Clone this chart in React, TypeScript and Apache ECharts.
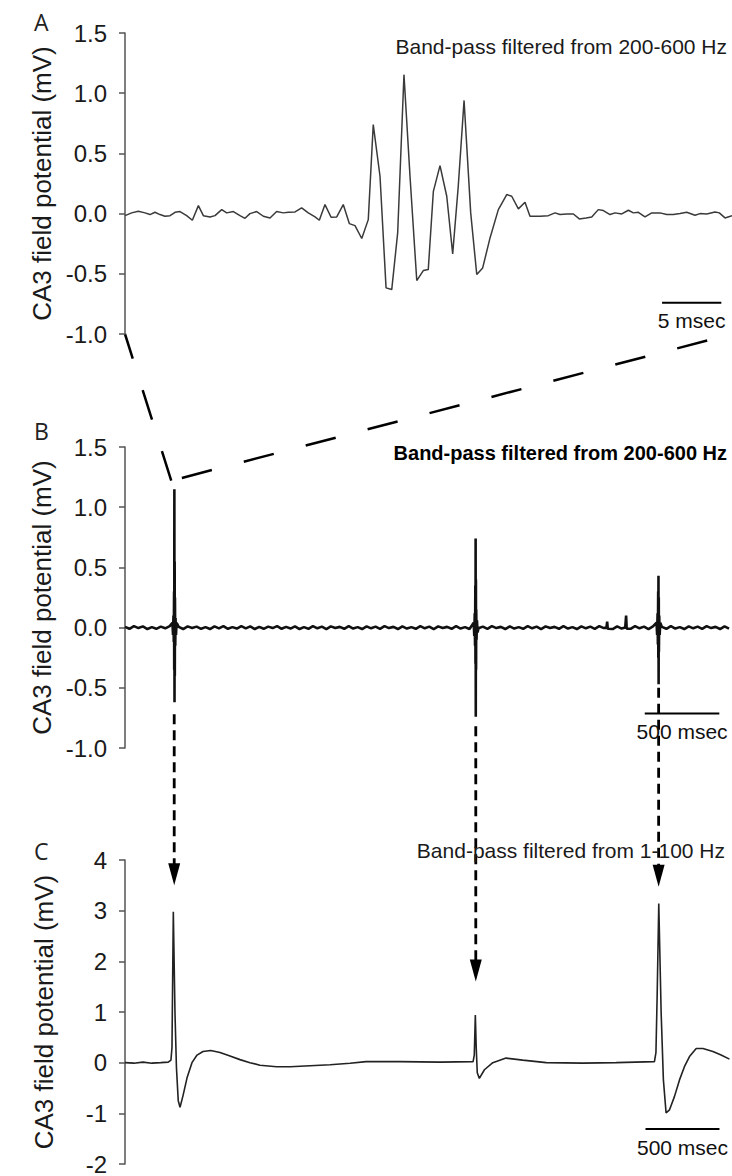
import React, { useEffect, useRef } from "react";
import * as echarts from "echarts";

// ---------- Panel A (zoomed burst, time in msec) ----------
const traceA: [number, number][] = [
  [0, -0.017], [0.56, 0.006], [1.12, 0.019], [1.69, 0.006], [2.11, -0.008], [2.53, 0.011],
  [2.95, -0.008], [3.37, -0.022], [3.8, -0.017], [4.22, 0.011], [4.64, 0.017], [5.2, -0.017],
  [5.68, -0.055], [6.19, 0.066], [6.61, -0.017], [7.17, -0.028], [7.59, -0.017], [8.16, 0.033],
  [8.58, 0.006], [9.14, 0.017], [9.7, -0.017], [10.12, -0.039], [10.54, 0], [11.11, 0.017],
  [11.67, -0.022], [12.23, -0.036], [12.79, 0.017], [13.35, 0.006], [13.78, 0.011], [14.34, 0.014],
  [14.9, 0.047], [15.46, 0.006], [16.03, -0.028], [16.39, -0.055], [16.87, 0.075], [17.38, -0.03],
  [17.86, -0.028], [18.41, 0.075], [18.92, -0.083], [19.4, -0.1], [19.97, -0.207], [20.52, -0.05],
  [20.94, 0.739], [21.51, 0.31], [22.02, -0.617], [22.5, -0.631], [23.0, -0.16], [23.53, 1.154],
  [24.04, 0.31], [24.61, -0.556], [25.16, -0.473], [25.58, -0.465], [26.01, 0.185], [26.57, 0.398],
  [27.14, 0.144], [27.64, -0.334], [28.11, 0.227], [28.6, 0.94], [29.16, 0.006], [29.67, -0.506],
  [30.17, -0.451], [30.79, -0.202], [31.49, 0.033], [32.2, 0.158], [32.62, 0.144], [33.18, 0.039],
  [33.74, 0.094], [34.16, -0.022], [35.01, -0.022], [35.71, -0.017], [36.27, 0.006], [36.69, -0.008],
  [37.26, -0.003], [37.82, -0.003], [38.32, -0.044], [38.89, -0.036], [39.37, -0.028], [39.92, 0.033],
  [40.35, 0.025], [40.91, -0.008], [41.33, 0.006], [41.9, -0.003], [42.46, 0.028], [42.88, 0.006],
  [43.3, 0.011], [43.86, -0.028], [44.43, 0.006], [45.13, 0.006], [45.69, -0.008], [46.25, -0.008],
  [46.82, 0], [47.38, 0.011], [48.08, -0.014], [48.5, 0], [49.07, -0.003], [49.77, 0.014],
  [50.13, 0.006], [50.61, -0.036], [51.2, -0.017],
];

// ---------- Panel B (200-600 Hz, time in msec) ----------
const bBaselineStepMs = 30;
const bBaseline = [
  0.006, -0.01, 0.012, -0.004, 0.01, -0.012, 0.004, -0.01, 0.008, -0.006,
  0.012, -0.008, 0.006, -0.012, 0.01, -0.004, 0.008, -0.01, 0.004, -0.012,
  0.01, -0.006, 0.012, -0.01, 0.004, -0.008, 0.012, -0.006, 0.01, -0.012,
  0.006, -0.01, 0.008, -0.004, 0.012, -0.01, 0.006, -0.008, 0.01, -0.012,
  0.004, -0.01, 0.012, -0.006, 0.008, -0.012, 0.01, -0.004, 0.006, -0.01,
  0.012, -0.008, 0.004, -0.012, 0.01, -0.006, 0.008, -0.01, 0.012, -0.004,
  0.006, -0.012, 0.01, -0.008, 0.004, -0.01, 0.012, -0.006, 0.008, -0.012,
  0.01, -0.004, 0.006, -0.01, 0.012, -0.008, 0.004, -0.012, 0.01, -0.006,
  0.008, -0.01, 0.012, -0.004, 0.006, -0.012, 0.01, -0.008, 0.004, -0.01,
  0.012, -0.006, 0.008, -0.012, 0.01, -0.004, 0.006, -0.01, 0.012, -0.008,
  0.004, -0.012, 0.01, -0.006, 0.008, -0.01, 0.012, -0.004, 0.006, -0.012,
  0.01, -0.008, 0.004, -0.01, 0.012, -0.006, 0.008, -0.012, 0.01, -0.004,
  0.006, -0.01, 0.012, -0.008, 0.004, -0.012, 0.01, -0.006, 0.008, -0.01,
  0.012, -0.004, 0.006, -0.012, 0.01, -0.008,
];
const bSpike1: [number, number][] = [
  [318, 0.04], [322, -0.06], [325, 0.1], [327, -0.12], [329, 0.3], [330, -0.35], [331, 1.15],
  [332, -0.62], [333, 0.55], [334, -0.4], [335, 0.25], [337, -0.15], [339, 0.08], [342, -0.06], [346, 0.04],
];
const bSpike2: [number, number][] = [
  [2338, 0.04], [2342, -0.07], [2345, 0.12], [2347, -0.15], [2349, 0.35], [2350, -0.3], [2351, 0.74],
  [2352, -0.74], [2353, 0.4], [2354, -0.35], [2355, 0.15], [2357, -0.1], [2360, 0.06], [2364, -0.04],
];
const bSpike3: [number, number][] = [
  [3564, 0.04], [3568, -0.06], [3571, 0.12], [3573, -0.14], [3575, 0.3], [3576, -0.25], [3577, 0.43],
  [3578, -0.47], [3579, 0.25], [3580, -0.2], [3582, 0.1], [3585, -0.06], [3589, 0.04],
];
const bBlip1: [number, number][] = [[3228, 0.0], [3233, 0.05], [3237, -0.01]];
const bBlip2: [number, number][] = [[3354, 0.0], [3360, 0.1], [3364, -0.01]];

// ---------- Panel C (1-100 Hz, time in msec) ----------
const traceC: [number, number][] = [
  [0, 0.0], [60, -0.01], [120, 0.01], [180, -0.01], [240, 0.0], [290, 0.01], [308, 0.05], [315, 0.3],
  [324, 2.98], [335, 1.0], [345, -0.1], [357, -0.75], [369, -0.88], [389, -0.65], [416, -0.3],
  [449, 0.0], [483, 0.15], [523, 0.22], [575, 0.24], [637, 0.2], [704, 0.13], [771, 0.06], [838, 0.0],
  [905, -0.05], [1017, -0.08], [1107, -0.08], [1241, -0.06], [1375, -0.04], [1509, -0.01], [1616, 0.02],
  [1844, 0.02], [2113, 0.01], [2334, 0.02], [2342, 0.15], [2349, 0.94], [2355, 0.3], [2362, -0.2],
  [2376, -0.31], [2410, -0.14], [2466, 0.0], [2555, 0.09], [2667, 0.05], [2824, 0.0], [3070, -0.01],
  [3293, 0.0], [3550, 0.02], [3560, 0.2], [3568, 1.3], [3579, 3.14], [3595, 0.98], [3610, -0.34],
  [3628, -0.99], [3651, -0.93], [3684, -0.67], [3718, -0.34], [3751, -0.08], [3785, 0.12], [3830, 0.28],
  [3875, 0.28], [3942, 0.22], [3997, 0.15], [4053, 0.07],
];

// ---------- annotations ----------
const spikeTimes = [330, 2352, 3578];
const arrowStartB = [-0.72, -0.82, -0.5];
const arrowTipC = [3.5, 1.6, 3.47];
const zoomApexB: [number, number] = [310, 1.22];

const scaleBarA = { t: [45.3, 50.3], v: -0.74, label: "5 msec" };
const scaleBarB = { t: [3485, 3985], v: -0.713, label: "500 msec" };
const scaleBarC = { t: [3490, 3986], v: -1.31, label: "500 msec" };

const titleA = "Band-pass filtered from 200-600 Hz";
const titleB = "Band-pass filtered from 200-600 Hz";
const titleC = "Band-pass filtered from 1-100 Hz";
const yName = "CA3 field potential (mV)";
const panelLetters = ["A", "B", "C"];

const FONT = "Liberation Sans, Arial, sans-serif";

function buildTraceB(): [number, number][] {
  const segs = [bSpike1, bSpike2, bSpike3, bBlip1, bBlip2];
  const base = bBaseline
    .map((v, i) => [i * bBaselineStepMs, v] as [number, number])
    .filter(([t]) => !segs.some((s) => t >= s[0][0] - 3 && t <= s[s.length - 1][0] + 3));
  const all = base.concat(...segs);
  return all.sort((a, b) => a[0] - b[0]);
}

function yAxis(gridIndex: number, min: number, max: number, interval: number, fixed: boolean) {
  return {
    type: "value",
    gridIndex,
    min,
    max,
    interval,
    name: yName,
    nameLocation: "middle",
    nameRotate: 90,
    nameGap: 68,
    nameTextStyle: { fontSize: 26, fontFamily: FONT, color: "#1a1a1a" },
    axisLine: { show: true, lineStyle: { color: "#555", width: 1.5 } },
    axisTick: { show: true, length: 6, lineStyle: { color: "#555", width: 1.5 } },
    axisLabel: {
      margin: 18,
      fontSize: 24,
      fontFamily: FONT,
      color: "#1a1a1a",
      formatter: (v: number) => (fixed ? v.toFixed(1) : String(v)),
    },
    splitLine: { show: false },
  };
}

function xAxis(gridIndex: number, max: number) {
  return { type: "value", gridIndex, min: 0, max, show: false };
}

function scaleSeries(idx: number, bar: { t: number[]; v: number }) {
  return {
    type: "line",
    xAxisIndex: idx,
    yAxisIndex: idx,
    data: [[bar.t[0], bar.v], [bar.t[1], bar.v]],
    showSymbol: false,
    silent: true,
    lineStyle: { color: "#000", width: 2 },
  };
}

export default function App() {
  const ref = useRef<HTMLDivElement>(null);

  useEffect(() => {
    if (!ref.current) return;
    const chart = echarts.init(ref.current, null, { renderer: "svg" });
    const traceB = buildTraceB();
    const grid = (top: number, height: number) => ({
      left: 125,
      top,
      width: 607,
      height,
      containLabel: false,
      outerBoundsMode: "none",
    });
    chart.setOption({
      animation: false,
      backgroundColor: "#fff",
      grid: [grid(33, 301), grid(447, 301), grid(860, 304)],
      xAxis: [xAxis(0, 51.2), xAxis(1, 4070), xAxis(2, 4070)],
      yAxis: [yAxis(0, -1, 1.5, 0.5, true), yAxis(1, -1, 1.5, 0.5, true), yAxis(2, -2, 4, 1, false)],
      title: panelLetters.map((l, i) => ({
        text: l,
        left: 34,
        top: [10, 419, 839][i],
        padding: 0,
        textStyle: { fontSize: 23, fontWeight: "normal", fontFamily: "Open Sans, Noto Sans, sans-serif", color: "#222" },
      })),
      series: [
        {
          type: "line", xAxisIndex: 0, yAxisIndex: 0, data: traceA, showSymbol: false,
          lineStyle: { color: "#3a3a3a", width: 1.5 }, silent: true,
        },
        {
          type: "line", xAxisIndex: 1, yAxisIndex: 1, data: traceB, showSymbol: false,
          lineStyle: { color: "#111", width: 2.6 }, silent: true,
        },
        {
          type: "line", xAxisIndex: 2, yAxisIndex: 2, data: traceC, showSymbol: false,
          lineStyle: { color: "#222", width: 1.6 }, silent: true,
        },
        scaleSeries(0, scaleBarA),
        scaleSeries(1, scaleBarB),
        scaleSeries(2, scaleBarC),
      ],
    });

    const px = (g: number, t: number, v: number) =>
      chart.convertToPixel({ gridIndex: g } as any, [t, v]) as number[];

    const els: any[] = [];
    const text = (x: number, y: number, str: string, size: number, family: string,
                  weight: string, align: string, fill: string) => ({
      type: "text",
      x,
      y,
      silent: true,
      style: {
        text: str,
        fill,
        fontSize: size,
        fontFamily: family,
        fontWeight: weight,
        align,
        verticalAlign: "middle",
      },
    });

    // zoom lines from A corners to B spike
    const apex = px(1, zoomApexB[0], zoomApexB[1]);
    const aLeft = px(0, 0, -1);
    const aRight = px(0, 51.2, -1);
    els.push({
      type: "line", silent: true,
      shape: { x1: apex[0], y1: apex[1], x2: aLeft[0], y2: aLeft[1] },
      style: { stroke: "#000", lineWidth: 2.5, lineDash: [31, 33], lineDashOffset: 0 },
    });
    els.push({
      type: "line", silent: true,
      shape: { x1: apex[0], y1: apex[1], x2: aRight[0], y2: aRight[1] },
      style: { stroke: "#000", lineWidth: 2.5, lineDash: [31, 33], lineDashOffset: 53 },
    });

    // dashed arrows from B to C
    spikeTimes.forEach((t, i) => {
      const s = px(1, t, arrowStartB[i]);
      const tip = px(2, t, arrowTipC[i]);
      els.push({
        type: "line", silent: true,
        shape: { x1: s[0], y1: s[1], x2: s[0], y2: tip[1] - 20 },
        style: { stroke: "#000", lineWidth: 2.8, lineDash: [10, 6] },
      });
      els.push({
        type: "polygon", silent: true,
        shape: { points: [[tip[0] - 6, tip[1] - 22], [tip[0] + 6, tip[1] - 22], [tip[0], tip[1]]] },
        style: { fill: "#000" },
      });
    });

    // scale bar labels
    [scaleBarA, scaleBarB, scaleBarC].forEach((bar, i) => {
      const p = px(i, (bar.t[0] + bar.t[1]) / 2, bar.v);
      els.push(text(p[0], p[1] + 18, bar.label, 21, FONT, "normal", "center", "#111"));
    });

    // titles
    els.push(text(727, 46, titleA, 21, FONT, "normal", "right", "#1a1a1a"));
    els.push(text(727, 453, titleB, 20, FONT, "bold", "right", "#000"));
    els.push(text(725, 850, titleC, 21, FONT, "normal", "right", "#1a1a1a"));

    chart.setOption({ graphic: els });
    return () => chart.dispose();
  }, []);

  return (
    <div
      ref={ref}
      style={{ position: "absolute", left: 0, top: 0, width: 732, height: 1176, background: "#fff" }}
    />
  );
}
